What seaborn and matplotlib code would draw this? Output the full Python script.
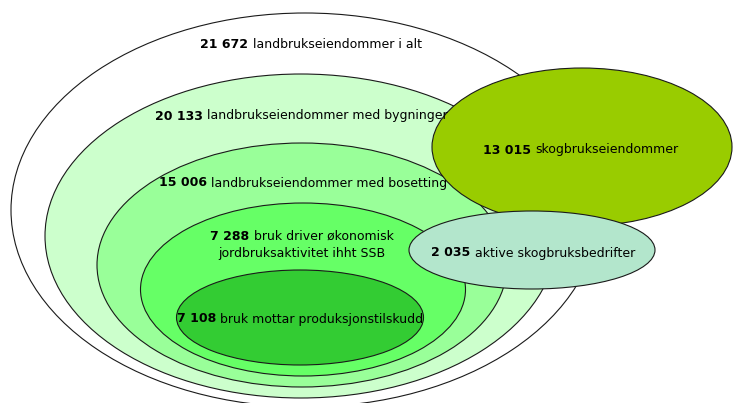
import matplotlib
matplotlib.use("Agg")
import matplotlib.pyplot as plt
from matplotlib.patches import Ellipse
from matplotlib.offsetbox import TextArea, HPacker, VPacker, AnnotationBbox
import seaborn as sns

# =========================
# DATA
# =========================
counts = ["21 672", "20 133", "15 006", "7 288", "7 108", "13 015", "2 035"]
labels = [
    "landbrukseiendommer i alt",
    "landbrukseiendommer med bygninger",
    "landbrukseiendommer med bosetting",
    "bruk driver økonomisk\njordbruksaktivitet ihht SSB",
    "bruk mottar produksjonstilskudd",
    "skogbrukseiendommer",
    "aktive skogbruksbedrifter",
]
colors = ["#FFFFFF", "#CCFFCC", "#99FF99", "#66FF66", "#33CC33", "#99CC00", "#B3E6CC"]

# ellipse geometry (pixel space) and label anchors
centers = [(305, 210), (301, 236), (302, 265), (303, 289.5), (300, 317.5), (582, 147), (532, 250)]
sizes = [(588, 394), (512, 324), (410, 244), (325, 173), (247, 95), (300, 158), (246, 78)]
text_pos = [(311, 44), (301, 116), (303, 183), (302, 245), (300, 319), (581, 150), (533, 253)]

# =========================
# PLOT
# =========================
sns.set_theme(style="white")
plt.rcParams["font.family"] = ["DejaVu Sans"]

fig = plt.figure(figsize=(7.33, 4.03), dpi=100)
ax = fig.add_axes([0, 0, 1, 1])
ax.set_xlim(0, 733)
ax.set_ylim(403, 0)
ax.axis("off")

for (cx, cy), (w, h), c in zip(centers, sizes, colors):
    ax.add_patch(Ellipse((cx, cy), w, h, facecolor=c, edgecolor="#1a1a1a", linewidth=0.8))

fs = 9.0
for n, lab, (tx, ty) in zip(counts, labels, text_pos):
    lines = lab.split("\n")
    first = HPacker(children=[
        TextArea(n, textprops=dict(fontsize=fs, fontweight="bold", color="black")),
        TextArea(lines[0], textprops=dict(fontsize=fs, color="black")),
    ], align="baseline", pad=0, sep=3)
    rows = [first] + [TextArea(l, textprops=dict(fontsize=fs, color="black")) for l in lines[1:]]
    box = VPacker(children=rows, align="center", pad=0, sep=3)
    ab = AnnotationBbox(box, (tx, ty), frameon=False, box_alignment=(0.5, 0.5), pad=0)
    ax.add_artist(ab)

plt.savefig("out.png", dpi=100)
